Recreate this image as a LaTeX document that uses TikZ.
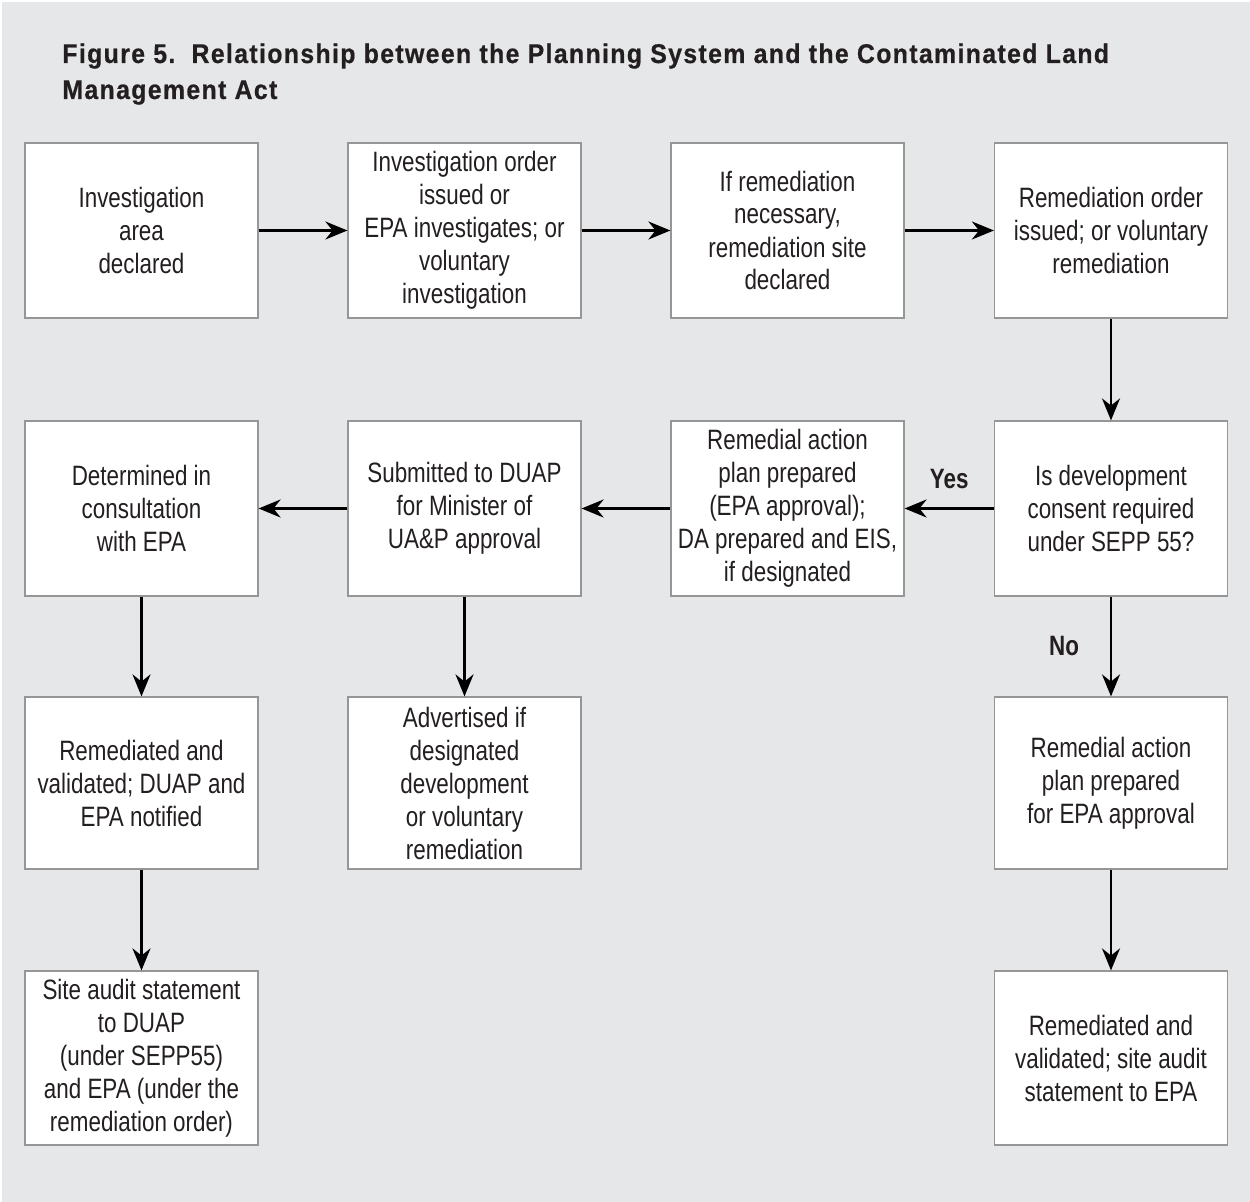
\documentclass[tikz,border=0pt]{standalone}
\usepackage{fontspec}
\setmainfont[FakeStretch=0.8]{Liberation Sans}
\newfontfamily\titlefont[FakeStretch=0.92,LetterSpace=5,FakeBold=0.6]{Liberation Sans}
\usetikzlibrary{arrows.meta}
\definecolor{bggray}{RGB}{230,231,232}
\definecolor{boxline}{RGB}{150,150,150}
\definecolor{ink}{RGB}{35,31,32}

\begin{document}
\begin{tikzpicture}[x=0.5pt, y=-0.5pt, >={Stealth[length=11pt,width=9pt]},
    box/.style={draw=boxline, line width=0.6pt, fill=white, minimum width=116.5pt,
      minimum height=87.5pt, inner sep=0pt, align=center, text=ink,
      font=\fontsize{14}{16.5}\selectfont},
    flow/.style={->, line width=1.3pt},
    answer/.style={font=\fontsize{14}{16}\selectfont\bfseries, text=ink}]
    % Page and background
    \useasboundingbox (0,0) rectangle (1250,1202);
    \fill[bggray] (2,2) rectangle (1250,1202);

    % Title
    \node[anchor=base west, inner sep=0pt, text=ink, font=\titlefont\fontsize{13.5}{18}\selectfont\bfseries]
      (title) at (62,63) {Figure 5.\hspace{0.6em}Relationship between the Planning System and the Contaminated Land};
    \node[anchor=base west, inner sep=0pt, text=ink, font=\titlefont\fontsize{13.5}{18}\selectfont\bfseries]
      (titlecont) at (62,99) {Management Act};

    % First row: investigation
    \node[box] (declared) at (141.5,230.5) {Investigation\\area\\declared};
    \node[box] (order) at (464.5,230.5) {Investigation order\\issued or\\EPA investigates; or\\voluntary\\investigation};
    \node[box] (site) at (787.5,230.5) {If remediation\\necessary,\\remediation site\\declared};
    \node[box] (remorder) at (1111,230.5) {Remediation order\\issued; or voluntary\\remediation};

    % Second row: consent
    \node[box] (consent) at (1111,508.5) {Is development\\consent required\\under SEPP 55?};
    \node[box] (rap) at (787.5,508.5) {Remedial action\\plan prepared\\(EPA approval);\\DA prepared and EIS,\\if designated};
    \node[box] (duap) at (464.5,508.5) {Submitted to DUAP\\for Minister of\\UA\&P approval};
    \node[box] (determined) at (141.5,508.5) {Determined in\\consultation\\with EPA};

    % Third row
    \node[box, minimum height=86pt] (validated) at (141.5,783) {Remediated and\\validated; DUAP and\\EPA notified};
    \node[box, minimum height=86pt] (advertised) at (464.5,783) {Advertised if\\designated\\development\\or voluntary\\remediation};
    \node[box, minimum height=86pt] (rapepa) at (1111,783) {Remedial action\\plan prepared\\for EPA approval};

    % Fourth row
    \node[box, minimum height=87pt] (audit) at (141.5,1058) {Site audit statement\\to DUAP\\(under SEPP55)\\and EPA (under the\\remediation order)};
    \node[box, minimum height=87pt] (auditepa) at (1111,1058) {Remediated and\\validated; site audit\\statement to EPA};

    % Connectors
    \draw[flow] (declared) -- (order);
    \draw[flow] (order) -- (site);
    \draw[flow] (site) -- (remorder);
    \draw[flow] (remorder) -- (consent);
    \draw[flow] (consent) -- node[answer, above=6pt] (yes) {Yes} (rap);
    \draw[flow] (rap) -- (duap);
    \draw[flow] (duap) -- (determined);
    \draw[flow] (determined) -- (validated);
    \draw[flow] (validated) -- (audit);
    \draw[flow] (duap) -- (advertised);
    \draw[flow] (consent) -- node[answer, left=12pt] (no) {No} (rapepa);
    \draw[flow] (rapepa) -- (auditepa);
\end{tikzpicture}
\end{document}
